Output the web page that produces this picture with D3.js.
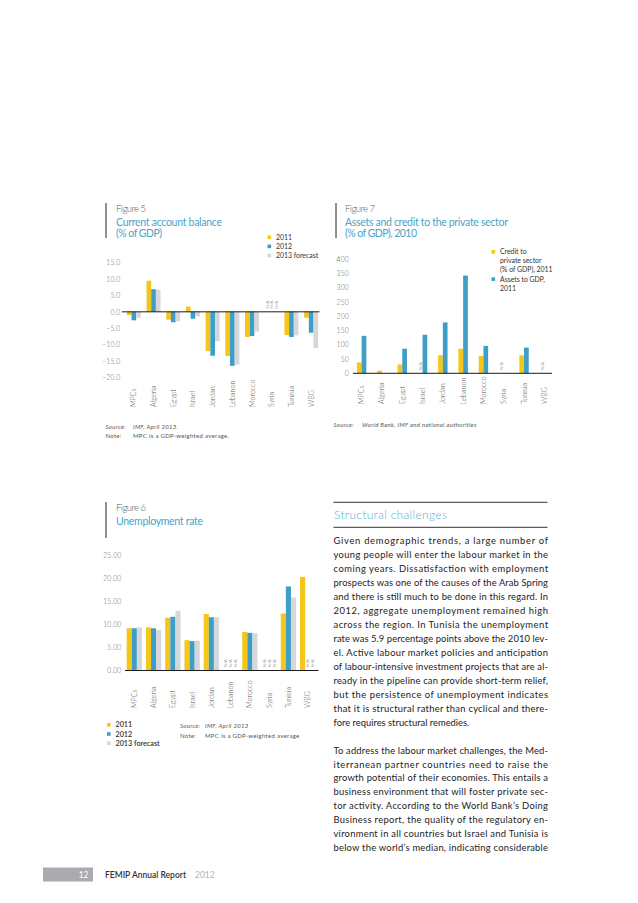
<!DOCTYPE html>
<html><head><meta charset="utf-8">
<script src="https://cdn.jsdelivr.net/npm/d3@7"></script>
<style>
body{margin:0;background:#fff}
svg{display:block}
text{font-family:Lato,"Open Sans",sans-serif}
</style>
</head><body>
<svg id="c" width="638" height="903"></svg>
<script>
// ---------- DATA ----------
const categories = ["MPCs","Algeria","Egypt","Israel","Jordan","Lebanon","Morocco","Syria","Tunisia","WBG"];

// Figure 5: Current account balance (% of GDP)
const ca2011 = [-1.0, 9.5, -2.4, 1.6, -12.0, -13.5, -7.7, null, -7.1, -1.8];
const ca2012 = [-2.6, 6.9, -3.2, -2.1, -13.4, -16.5, -7.4, null, -7.7, -6.4];
const ca2013 = [-1.8, 6.8, -2.9, -1.4, -9.0, -16.1, -6.0, null, -7.2, -11.1];
const caTicks = [15, 10, 5, 0, -5, -10, -15, -20];

// Figure 6: Unemployment rate
const un2011 = [9.2, 9.4, 11.5, 6.6, 12.3, null, 8.4, null, 12.4, 20.4];
const un2012 = [9.2, 9.2, 11.7, 6.4, 11.6, null, 8.2, null, 18.3, null];
const un2013 = [9.4, 8.8, 13.0, 6.5, 11.6, null, 8.1, null, 15.9, null];
const unTicks = [25, 20, 15, 10, 5, 0];

// Figure 7: Assets and credit to the private sector
const credit2011 = [38, 9, 31, null, 63, 86, 61, null, 63, null];
const assets2011 = [131, null, 86, 135, 178, 342, 96, null, 90, null];
const acTicks = [400, 350, 300, 250, 200, 150, 100, 50, 0];

const legend3 = ["2011", "2012", "2013 forecast"];
const legend7 = [["Credit to", "private sector", "(% of GDP), 2011"], ["Assets to GDP,", "2011"]];

const para1 = [
 "Given demographic trends, a large number of",
 "young people will enter the labour market in the",
 "coming years. Dissatisfaction with employment",
 "prospects was one of the causes of the Arab Spring",
 "and there is still much to be done in this regard. In",
 "2012, aggregate unemployment remained high",
 "across the region. In Tunisia the unemployment",
 "rate was 5.9 percentage points above the 2010 lev-",
 "el. Active labour market policies and anticipation",
 "of labour-intensive investment projects that are al-",
 "ready in the pipeline can provide short-term relief,",
 "but the persistence of unemployment indicates",
 "that it is structural rather than cyclical and there-",
 "fore requires structural remedies."
];
const para2 = [
 "To address the labour market challenges, the Med-",
 "iterranean partner countries need to raise the",
 "growth potential of their economies. This entails a",
 "business environment that will foster private sec-",
 "tor activity. According to the World Bank\u2019s Doing",
 "Business report, the quality of the regulatory en-",
 "vironment in all countries but Israel and Tunisia is",
 "below the world\u2019s median, indicating considerable"
];

// ---------- STYLE ----------
const C = {y:"#f5c518", b:"#3f9ec6", g:"#d5d7da", title:"#4aa3c8", dark:"#333", mid:"#666"};
const svg = d3.select("#c");

function txt(g, x, y, s, o = {}) {
  const t = g.append("text").attr("x", x).attr("y", y).text(s)
    .attr("font-size", o.size || 8).attr("fill", o.fill || C.dark);
  if (o.weight) t.attr("font-weight", o.weight);
  if (o.italic) t.attr("font-style", "italic");
  if (o.ls) t.attr("letter-spacing", o.ls);
  if (o.anchor) t.attr("text-anchor", o.anchor);
  if (o.len) t.attr("textLength", o.len).attr("lengthAdjust", "spacing");
  return t;
}

function header(barX, textX, yTop, yBot, fig, lines) {
  svg.append("line").attr("x1", barX).attr("x2", barX).attr("y1", yTop).attr("y2", yBot)
    .attr("stroke", "#222").attr("stroke-width", 1);
  txt(svg, textX, yTop + 8.5, fig[0], {size: 9.5, fill: "#58595b", weight: 300, len: fig[1]});
  lines.forEach((l, i) => txt(svg, textX, yTop + 23 + i * 11, l[0], {size: 10.5, fill: C.title, len: l[1]}));
}

function barChart(cfg) {
  const g = svg.append("g");
  const x = d3.scaleBand().domain(categories).range([cfg.x0, cfg.x1]);
  const y = d3.scaleLinear().domain(cfg.yDom).range(cfg.yRange);
  const n = cfg.series.length;
  const inner = d3.scaleBand().domain(d3.range(n)).range([-n * cfg.bw / 2, n * cfg.bw / 2]);
  const cx = c => x(c) + x.bandwidth() / 2;

  cfg.series.forEach((s, i) => {
    g.selectAll(null).data(s.map((v, j) => ({v, c: categories[j]})).filter(d => d.v != null))
      .join("rect")
      .attr("x", d => cx(d.c) + inner(i))
      .attr("width", inner.bandwidth())
      .attr("y", d => Math.min(y(d.v), y(0)))
      .attr("height", d => Math.abs(y(d.v) - y(0)))
      .attr("fill", cfg.colors[i]);
    // N/A markers
    g.selectAll(null).data(s.map((v, j) => ({v, c: categories[j], j})).filter(d => d.v == null && cfg.na(i, d.j)))
      .join("text")
      .attr("transform", d => `translate(${cx(d.c) + inner(i) + inner.bandwidth() / 2},${y(0) - 3}) rotate(-90)`)
      .attr("dy", "0.35em").attr("font-size", 4.6).attr("fill", "#999").text("N/A");
  });

  // y axis
  const ya = g.append("g").attr("transform", `translate(${cfg.labelRight},0)`)
    .call(d3.axisLeft(y).tickValues(cfg.ticks).tickFormat(cfg.fmt).tickSize(0).tickPadding(0));
  ya.select(".domain").remove();
  ya.attr("font-family", null).attr("font-size", null);
  ya.selectAll("text").attr("font-size", 6.8).attr("fill", C.mid).attr("font-weight", 300).attr("letter-spacing", 0.2);

  // zero line
  g.append("line").attr("x1", cfg.ax0).attr("x2", cfg.ax1).attr("y1", y(0)).attr("y2", y(0))
    .attr("stroke", "#1a1a1a").attr("stroke-width", 1);

  // category labels
  const xa = g.append("g").attr("transform", `translate(0,${cfg.catY})`)
    .call(d3.axisBottom(x).tickSize(0));
  xa.select(".domain").remove();
  xa.attr("font-family", null).attr("font-size", null);
  xa.selectAll("text").attr("x", 0).attr("y", 0).attr("dy", "0.35em")
    .attr("transform", "rotate(-90)").attr("text-anchor", "start")
    .attr("font-size", 7.2).attr("font-weight", 300).attr("fill", "#555");
  return {x, y};
}

function legend(x, y, items, colors, step, o = {}) {
  items.forEach((it, i) => {
    const lines = Array.isArray(it) ? it : [it];
    const yy = y + (o.offsets ? o.offsets[i] : i * step);
    svg.append("rect").attr("x", x).attr("y", yy - 2).attr("width", 3.6).attr("height", 3.6).attr("fill", colors[i]);
    lines.forEach((l, k) => txt(svg, x + 8.5, yy + 2.4 + k * 8.8, l, {size: o.size || 6.9, fill: "#333", weight: o.weight}));
  });
}

// ---------- FIGURE 5 ----------
header(106, 116, 203, 238, ["Figure 5", 30], [["Current account balance", 106], ["(% of GDP)", 46]]);
barChart({series: [ca2011, ca2012, ca2013], colors: [C.y, C.b, C.g], x0: 124, x1: 321, bw: 4.67,
  yDom: [-20, 15], yRange: [377.3, 262.7], ticks: caTicks, fmt: d3.format(".1f"), labelRight: 120.5,
  ax0: 122, ax1: 319.5, catY: 407, na: () => true});
legend(267.5, 237.5, legend3, [C.y, C.b, C.g], 9.1);
txt(svg, 105.5, 428.5, "Source:", {size: 6, italic: true, fill: "#555", ls: 0.3});
txt(svg, 133, 428.5, "IMF, April 2013.", {size: 6, italic: true, fill: "#555", ls: 0.3});
txt(svg, 105.5, 437.5, "Note:", {size: 6, fill: "#555", ls: 0.3});
txt(svg, 133, 437.5, "MPC is a GDP-weighted average.", {size: 6, fill: "#555", ls: 0.3});

// ---------- FIGURE 7 ----------
header(336, 345, 203, 238, ["Figure 7", 30], [["Assets and credit to the private sector", 163], ["(% of GDP), 2010", 72]]);
barChart({series: [credit2011, assets2011], colors: [C.y, C.b], x0: 351.5, x1: 554.5, bw: 4.7,
  yDom: [0, 400], yRange: [373.3, 259], ticks: acTicks, fmt: d3.format("d"), labelRight: 349,
  ax0: 353, ax1: 552, catY: 404, na: (i) => i === 0});
legend(491.5, 252, legend7, [C.y, C.b], 0, {offsets: [0, 27.3]});
txt(svg, 333.5, 426.5, "Source:", {size: 6, italic: true, fill: "#555", ls: 0.3});
txt(svg, 362, 426.5, "World Bank, IMF and national authorities", {size: 6, italic: true, fill: "#555", ls: 0.3});

// ---------- FIGURE 6 ----------
header(106, 116, 502, 538, ["Figure 6", 30], [["Unemployment rate", 87]]);
barChart({series: [un2011, un2012, un2013], colors: [C.y, C.b, C.g], x0: 124.7, x1: 317.3, bw: 5.1,
  yDom: [0, 25], yRange: [670.5, 555.7], ticks: unTicks, fmt: d3.format(".2f"), labelRight: 121.5,
  ax0: 125, ax1: 318.5, catY: 708, na: () => true});
legend(107, 725, legend3, [C.y, C.b, C.g], 9.2, {size: 7.2, weight: 600});
txt(svg, 180, 728, "Source:", {size: 6, italic: true, fill: "#555", ls: 0.3});
txt(svg, 205, 728, "IMF, April 2013", {size: 6, italic: true, fill: "#555", ls: 0.3});
txt(svg, 180, 738, "Note:", {size: 6, fill: "#555", ls: 0.3});
txt(svg, 205, 738, "MPC is a GDP-weighted average", {size: 6, fill: "#555", ls: 0.3});

// ---------- TEXT COLUMN ----------
svg.append("line").attr("x1", 333.5).attr("x2", 547.5).attr("y1", 502.3).attr("y2", 502.3).attr("stroke", "#333").attr("stroke-width", 1);
svg.append("line").attr("x1", 333.5).attr("x2", 547.5).attr("y1", 527.3).attr("y2", 527.3).attr("stroke", "#333").attr("stroke-width", 1);
txt(svg, 334, 518.5, "Structural challenges", {size: 12, fill: "#5aafd2", weight: 300, len: 113});

const lh = 13.95, tx = 333.5, tw = 214.5;
para1.forEach((l, i) => txt(svg, tx, 544.3 + i * lh, l, {size: 9.4, fill: "#222", len: i < para1.length - 1 ? tw : null}));
para2.forEach((l, i) => txt(svg, tx, 544.3 + (15 + i) * lh, l, {size: 9.4, fill: "#222", len: tw}));

// ---------- FOOTER ----------
svg.append("rect").attr("x", 43).attr("y", 867.5).attr("width", 50).attr("height", 14).attr("fill", "#a9abae");
txt(svg, 88.5, 877.5, "12", {size: 8.5, fill: "#fff", anchor: "end"});
txt(svg, 105, 877.5, "FEMIP Annual Report", {size: 8.5, fill: "#333", weight: 600});
txt(svg, 195, 877.5, "2012", {size: 8.5, fill: "#b3b3b3"});
</script>
</body></html>
